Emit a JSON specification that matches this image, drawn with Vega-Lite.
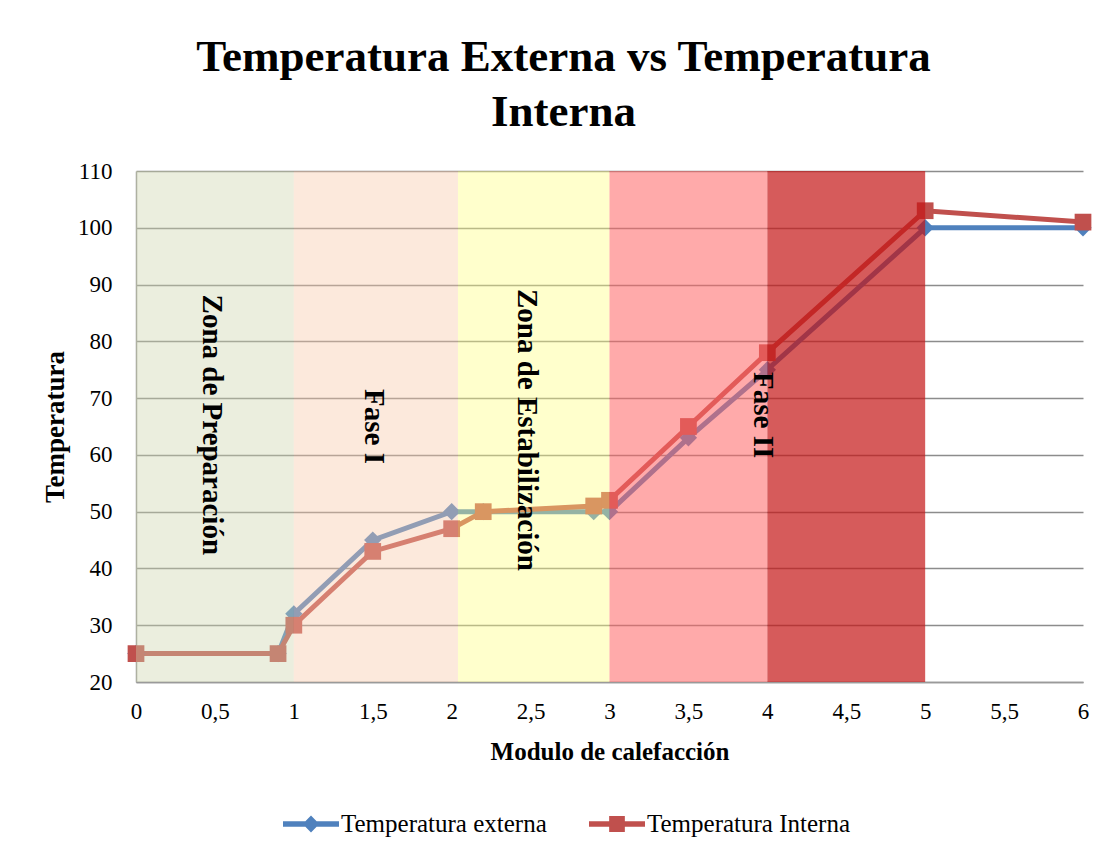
{
  "$schema": "https://vega.github.io/schema/vega-lite/v6.json",
  "width": 947,
  "height": 511,
  "autosize": {"type": "none"},
  "padding": {"left": 136, "top": 171, "right": 21, "bottom": 178},
  "background": "white",
  "config": {
    "view": {"stroke": null},
    "font": "Liberation Serif",
    "legend": {"labelFont": "Liberation Serif", "labelFontSize": 25, "labelColor": "#000000"}
  },
  "title": {
    "text": ["Temperatura Externa vs Temperatura", "Interna"],
    "font": "Liberation Serif",
    "fontSize": 45,
    "fontWeight": "bold",
    "color": "#000000",
    "lineHeight": 55,
    "anchor": "middle",
    "frame": "group",
    "dx": -46,
    "offset": 25
  },
  "datasets": {
    "series": [
      {"modulo": 0, "temp": 25, "serie": "Temperatura externa"},
      {"modulo": 0.9, "temp": 25, "serie": "Temperatura externa"},
      {"modulo": 1, "temp": 32, "serie": "Temperatura externa"},
      {"modulo": 1.5, "temp": 45, "serie": "Temperatura externa"},
      {"modulo": 2, "temp": 50, "serie": "Temperatura externa"},
      {"modulo": 2.2, "temp": 50, "serie": "Temperatura externa"},
      {"modulo": 2.9, "temp": 50, "serie": "Temperatura externa"},
      {"modulo": 3, "temp": 50, "serie": "Temperatura externa"},
      {"modulo": 3.5, "temp": 63, "serie": "Temperatura externa"},
      {"modulo": 4, "temp": 75, "serie": "Temperatura externa"},
      {"modulo": 5, "temp": 100, "serie": "Temperatura externa"},
      {"modulo": 6, "temp": 100, "serie": "Temperatura externa"},
      {"modulo": 0, "temp": 25, "serie": "Temperatura Interna"},
      {"modulo": 0.9, "temp": 25, "serie": "Temperatura Interna"},
      {"modulo": 1, "temp": 30, "serie": "Temperatura Interna"},
      {"modulo": 1.5, "temp": 43, "serie": "Temperatura Interna"},
      {"modulo": 2, "temp": 47, "serie": "Temperatura Interna"},
      {"modulo": 2.2, "temp": 50, "serie": "Temperatura Interna"},
      {"modulo": 2.9, "temp": 51, "serie": "Temperatura Interna"},
      {"modulo": 3, "temp": 52, "serie": "Temperatura Interna"},
      {"modulo": 3.5, "temp": 65, "serie": "Temperatura Interna"},
      {"modulo": 4, "temp": 78, "serie": "Temperatura Interna"},
      {"modulo": 5, "temp": 103, "serie": "Temperatura Interna"},
      {"modulo": 6, "temp": 101, "serie": "Temperatura Interna"}
    ],
    "zones": [
      {"zona": "prep", "inicio": 0, "fin": 1},
      {"zona": "fase1", "inicio": 1, "fin": 2.04},
      {"zona": "estab", "inicio": 2.04, "fin": 3},
      {"zona": "fase2a", "inicio": 3, "fin": 4},
      {"zona": "fase2b", "inicio": 4, "fin": 5}
    ],
    "labels": [
      {"texto": "Zona de Preparación", "modulo": 0.48, "temp": 65.3},
      {"texto": "Fase I", "modulo": 1.51, "temp": 65},
      {"texto": "Zona de Estabilización", "modulo": 2.48, "temp": 64.4},
      {"texto": "Fase II", "modulo": 3.97, "temp": 67}
    ]
  },
  "encoding": {
    "x": {
      "type": "quantitative",
      "scale": {"domain": [0, 6], "nice": false, "zero": false},
      "axis": {
        "title": "Modulo de calefacción",
        "values": [0, 0.5, 1, 1.5, 2, 2.5, 3, 3.5, 4, 4.5, 5, 5.5, 6],
        "labelExpr": "replace(toString(datum.value), '.', ',')",
        "grid": false,
        "ticks": false,
        "domainColor": "#9A9A9A",
        "domainWidth": 1.5,
        "labelFont": "Liberation Serif",
        "labelFontSize": 23,
        "labelColor": "#000000",
        "labelPadding": 18,
        "labelFlush": false,
        "titleFont": "Liberation Serif",
        "titleFontSize": 25,
        "titleFontWeight": "bold",
        "titleColor": "#000000",
        "titlePadding": 16
      }
    },
    "y": {
      "type": "quantitative",
      "scale": {"domain": [20, 110], "nice": false, "zero": false},
      "axis": {
        "title": "Temperatura",
        "values": [20, 30, 40, 50, 60, 70, 80, 90, 100, 110],
        "grid": true,
        "gridColor": "#8C8C8C",
        "gridWidth": 1.5,
        "ticks": false,
        "domainColor": "#9A9A9A",
        "domainWidth": 1.5,
        "labelFont": "Liberation Serif",
        "labelFontSize": 23,
        "labelColor": "#000000",
        "labelPadding": 24,
        "titleFont": "Liberation Serif",
        "titleFontSize": 27,
        "titleFontWeight": "bold",
        "titleColor": "#000000",
        "titlePadding": 8
      }
    }
  },
  "layer": [
    {
      "data": {"name": "series"},
      "mark": {"type": "line", "strokeWidth": 5},
      "encoding": {
        "x": {"field": "modulo", "type": "quantitative"},
        "y": {"field": "temp", "type": "quantitative"},
        "color": {
          "field": "serie",
          "type": "nominal",
          "scale": {"domain": ["Temperatura externa", "Temperatura Interna"], "range": ["#4F81BD", "#C0504D"]},
          "legend": {
            "orient": "none",
            "legendX": 147,
            "legendY": 625,
            "direction": "horizontal",
            "title": null,
            "symbolSize": 3136,
            "symbolOpacity": 1,
            "labelFont": "Liberation Serif",
            "labelFontSize": 25,
            "labelColor": "#000000",
            "labelOffset": 2,
            "columnPadding": 42,
            "labelLimit": 400,
            "encode": {
              "labels": {
                "update": {
                  "font": {"value": "Liberation Serif"},
                  "fontSize": {"value": 25},
                  "fill": {"value": "#000000"}
                }
              },
              "symbols": {
                "update": {
                  "shape": {"signal": "datum.value == 'Temperatura externa' ? 'M-1,-0.1L-0.2,-0.1L0,-0.3L0.2,-0.1L1,-0.1L1,0.1L0.2,0.1L0,0.3L-0.2,0.1L-1,0.1Z' : 'M-1,-0.1L-0.28,-0.1L-0.28,-0.29L0.28,-0.29L0.28,-0.1L1,-0.1L1,0.1L0.28,0.1L0.28,0.29L-0.28,0.29L-0.28,0.1L-1,0.1Z'"},
                  "fill": {"signal": "datum.value == 'Temperatura externa' ? '#4F81BD' : '#C0504D'"},
                  "stroke": {"value": "transparent"},
                  "strokeWidth": {"value": 0},
                  "opacity": {"value": 1}
                }
              }
            }
          }
        }
      }
    },
    {
      "data": {"name": "series"},
      "transform": [{"filter": "datum.serie == 'Temperatura externa'"}],
      "mark": {"type": "point", "shape": "diamond", "filled": true, "size": 300, "opacity": 1},
      "encoding": {
        "x": {"field": "modulo", "type": "quantitative"},
        "y": {"field": "temp", "type": "quantitative"},
        "color": {"field": "serie", "type": "nominal", "legend": null}
      }
    },
    {
      "data": {"name": "series"},
      "transform": [{"filter": "datum.serie == 'Temperatura Interna'"}],
      "mark": {"type": "point", "shape": "square", "filled": true, "size": 280, "opacity": 1},
      "encoding": {
        "x": {"field": "modulo", "type": "quantitative"},
        "y": {"field": "temp", "type": "quantitative"},
        "color": {"field": "serie", "type": "nominal", "legend": null}
      }
    },
    {
      "data": {"name": "zones"},
      "mark": {"type": "rect"},
      "encoding": {
        "x": {"field": "inicio", "type": "quantitative"},
        "x2": {"field": "fin"},
        "y": {"datum": 20},
        "y2": {"datum": 110},
        "fill": {
          "field": "zona",
          "type": "nominal",
          "scale": {
            "domain": ["prep", "fase1", "estab", "fase2a", "fase2b"],
            "range": ["#CDD4AD", "#F8C8A8", "#FFFF80", "#FF6464", "#C41515"]
          },
          "legend": null
        },
        "opacity": {
          "condition": [
            {"test": "datum.zona == 'fase2b'", "value": 0.7},
            {"test": "datum.zona == 'fase2a'", "value": 0.55}
          ],
          "value": 0.4
        }
      }
    },
    {
      "data": {"name": "labels"},
      "mark": {
        "type": "text",
        "angle": 90,
        "align": "center",
        "baseline": "middle",
        "font": "Liberation Serif",
        "fontSize": 29,
        "fontWeight": "bold",
        "color": "#000000"
      },
      "encoding": {
        "x": {"field": "modulo", "type": "quantitative"},
        "y": {"field": "temp", "type": "quantitative"},
        "text": {"field": "texto"}
      }
    }
  ]
}
